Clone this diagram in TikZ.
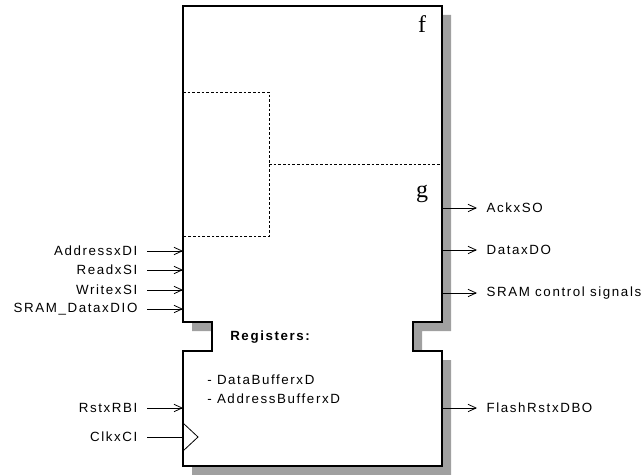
\documentclass[tikz,border=0pt]{standalone}
\usepackage{fontspec}
\setmainfont{Liberation Serif}
\setsansfont{Liberation Sans}[LetterSpace=12]
\usepackage{xcolor}
\usepackage{tikz}
\usetikzlibrary{arrows.meta, positioning}
\definecolor{ShadowGray}{RGB}{160, 160, 160}
\definecolor{LineBlack}{RGB}{0, 0, 0}

\tikzset{
  pin label/.style={font=\sffamily\fontsize{10}{12}\selectfont, inner xsep=7pt, inner ysep=1pt},
  sig/.style={draw=LineBlack, line width=0.6pt, -{Straight Barb[length=6pt, width=5.5pt]}},
  wire/.style={draw=LineBlack, line width=0.6pt},
  ctrl outline/.style={insert path={(183,6) -- (442,6) -- (442,322) -- (413,322) -- (413,351)
    -- (442,351) -- (442,466) -- (183,466) -- (183,351) -- (212,351) -- (212,322)
    -- (183,322) -- cycle}},
  fsm name/.style={font=\fontsize{18}{18}\selectfont, inner sep=0pt}
}

\begin{document}
\begin{tikzpicture}[x=0.75pt, y=-0.75pt]
  \useasboundingbox (0,0) rectangle (641,474);

  \fill[ShadowGray, shift={(9,9)}, ctrl outline];
  \filldraw[fill=white, draw=LineBlack, line width=0.8pt, ctrl outline];

  \draw[dashed, dash pattern=on 2pt off 1.5pt, line width=0.5pt]
    (183,92) -- (269,92) -- (269,236) -- (183,236);
  \draw[dashed, dash pattern=on 2pt off 1.5pt, line width=0.5pt]
    (269,164) -- (442,164);

  \node[fsm name] (fName) at (422,24) {f};
  \node[fsm name] (gName) at (422,194) {g};

  \coordinate (addrPin) at (183,251);
  \coordinate (readPin) at (183,270);
  \coordinate (writePin) at (183,290);
  \coordinate (sramPin) at (183,309);
  \coordinate (rstPin) at (183,408);
  \coordinate (clkPin) at (183,437);
  \coordinate (ackPin) at (442,208);
  \coordinate (dataPin) at (442,250);
  \coordinate (ctrlPin) at (442,293);
  \coordinate (flashPin) at (442,408);

  \node[pin label, anchor=east] (addrIn) at (147,251) {AddressxDI};
  \node[pin label, anchor=east] (readIn) at (147,270) {ReadxSI};
  \node[pin label, anchor=east] (writeIn) at (147,290) {WritexSI};
  \node[pin label, anchor=east] (sramIn) at (147,309) {SRAM\_DataxDIO};
  \node[pin label, anchor=east] (rstIn) at (147,408) {RstxRBI};
  \node[pin label, anchor=east] (clkIn) at (147,437) {ClkxCI};

  \node[pin label, anchor=west] (ackOut) at (477,208) {AckxSO};
  \node[pin label, anchor=west] (dataOut) at (477,250) {DataxDO};
  \node[pin label, anchor=west] (ctrlOut) at (477,293) {SRAM control signals};
  \node[pin label, anchor=west] (flashOut) at (477,408) {FlashRstxDBO};

  \draw[sig] (addrIn.east) -- (addrPin);
  \draw[sig] (readIn.east) -- (readPin);
  \draw[sig] (writeIn.east) -- (writePin);
  \draw[sig] (sramIn.east) -- (sramPin);
  \draw[sig] (rstIn.east) -- (rstPin);
  \draw[wire] (clkIn.east) -- (clkPin);
  \draw[wire] (183,423) -- (198,437) -- (183,451);

  \draw[sig] (ackPin) -- (ackOut.west);
  \draw[sig] (dataPin) -- (dataOut.west);
  \draw[sig] (ctrlPin) -- (ctrlOut.west);
  \draw[sig] (flashPin) -- (flashOut.west);

  \node[pin label, font=\sffamily\bfseries\fontsize{10}{12}\selectfont, anchor=west, inner xsep=0pt]
    (regTitle) at (230,337) {Registers:};
  \node[pin label, anchor=west, inner xsep=0pt] (regData) at (207,380) {- DataBufferxD};
  \node[pin label, anchor=west, inner xsep=0pt] (regAddr) at (207,399) {- AddressBufferxD};
\end{tikzpicture}
\end{document}
